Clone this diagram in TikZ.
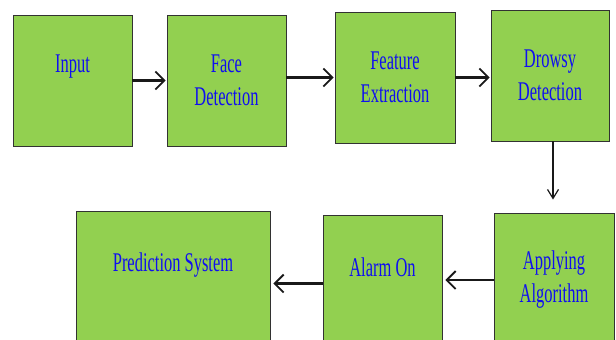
\documentclass[tikz,border=0pt]{standalone}
\usepackage{fontspec}
\setmainfont[FakeStretch=0.61]{Liberation Serif}
\usetikzlibrary{arrows.meta}
\definecolor{boxgreen}{RGB}{146,208,80}
\definecolor{txtblue}{RGB}{15,15,240}
\definecolor{edge}{RGB}{50,50,50}
\tikzset{
  box/.style={draw=edge, line width=0.9pt, fill=boxgreen, inner sep=0pt,
    align=center, text=txtblue, font=\fontsize{27}{33}\selectfont},
  arr/.style={draw=black!90, line width=2.1pt, -{Straight Barb[length=9pt,width=18pt,line width=1.8pt]}},
  varr/.style={draw=black!90, line width=1.2pt, -{Straight Barb[length=9pt,width=11pt,line width=1.2pt]}}
}
\begin{document}
\begin{tikzpicture}[x=1pt,y=-1pt]
\useasboundingbox (0,0) rectangle (616,340);
\clip (0,0) rectangle (616,340);
\node[box, minimum width=119pt, minimum height=131pt] (in) at (72.5,80.5) {Input\\\mbox{}};
\node[box, minimum width=119pt, minimum height=131pt] (face) at (226.5,80.5) {Face\\Detection};
\node[box, minimum width=120pt, minimum height=131pt] (feat) at (395,77.5) {Feature\\Extraction};
\node[box, minimum width=118pt, minimum height=131pt] (drow) at (550,75.5) {Drowsy\\Detection};
\node[box, minimum width=120pt, minimum height=134pt] (app) at (554,280) {Applying\\Algorithm};
\node[box, minimum width=119pt, minimum height=137pt] (alarm) at (382.5,283.5) {Alarm On\\\mbox{}};
\node[box, minimum width=194pt, minimum height=135pt] (pred) at (173,278.5) {Prediction System\\\mbox{}};
\draw[arr, shorten >=1pt] (in.east) -- (face.west);
\draw[arr, shorten >=1pt] (face.east |- feat.west) -- (feat.west);
\draw[arr, shorten >=1pt] (feat.east) -- (drow.west |- feat.east);
\coordinate (vtop) at ([xshift=3pt]drow.south);
\draw[varr, shorten >=13pt] (vtop) -- (vtop |- app.north);
\draw[arr, shorten >=3pt] (app.west) -- (alarm.east |- app.west);
\draw[arr, shorten >=3pt] (alarm.west) -- (pred.east |- alarm.west);
\end{tikzpicture}
\end{document}
